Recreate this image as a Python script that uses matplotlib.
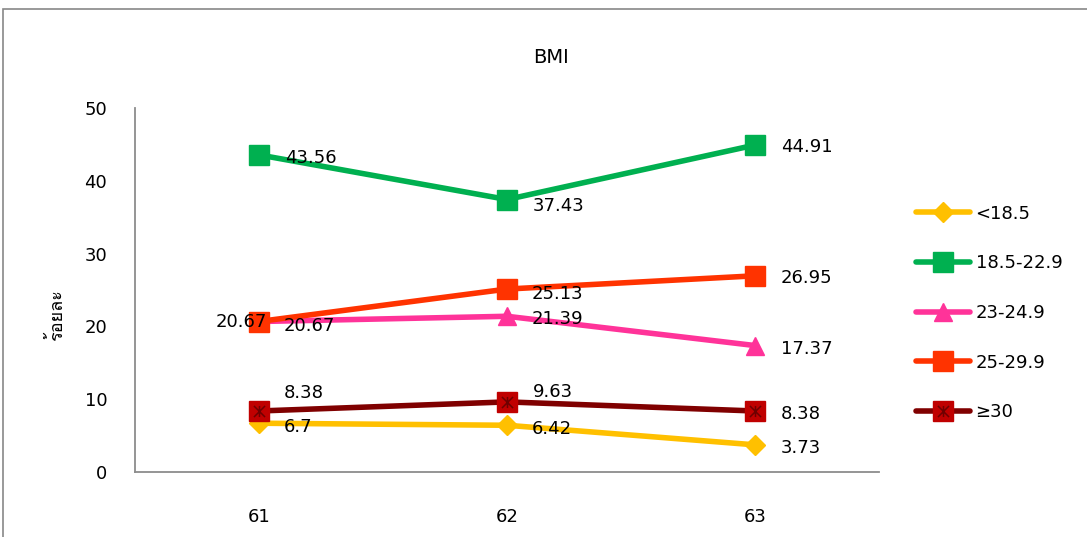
import matplotlib
matplotlib.use("Agg")
import matplotlib.pyplot as plt
from matplotlib import font_manager, ft2font
from matplotlib.legend_handler import HandlerTuple
from matplotlib.patches import Rectangle
from matplotlib.path import Path

plt.rcParams["font.family"] = ["DejaVu Sans"]

years = ["61", "62", "63"]
series_names = ["<18.5", "18.5-22.9", "23-24.9", "25-29.9", "≥30"]
under = [6.7, 6.42, 3.73]
normal = [43.56, 37.43, 44.91]
over = [20.67, 21.39, 17.37]
obese1 = [20.67, 25.13, 26.95]
obese2 = [8.38, 9.63, 8.38]
y_ticks = [0, 10, 20, 30, 40, 50]

# label offsets in pixels (dx, dy), dy positive = up
label_offsets = {
    "<18.5": [(25, -4), (25, -4), (26, -3)],
    "18.5-22.9": [(26, -3), (26, -6), (26, -2)],
    "23-24.9": [(25, -4), (25, -3), (26, -3)],
    "25-29.9": [(8, 0), (25, -5), (26, -2)],
    "≥30": [(25, 18), (26, 10), (26, -3)],
}


def thai_font():
    # first installed family that has Thai glyphs
    for f in font_manager.fontManager.ttflist:
        try:
            if 0x0E23 in ft2font.FT2Font(f.fname).get_charmap():
                return f.name
        except Exception:
            pass
    return "DejaVu Sans"


asterisk = Path([(-1, -1), (1, 1), (-1, 1), (1, -1), (0, -1), (0, 1)],
                [Path.MOVETO, Path.LINETO, Path.MOVETO, Path.LINETO,
                 Path.MOVETO, Path.LINETO])

fig = plt.figure(figsize=(10.87, 5.37), dpi=100)
ax = fig.add_axes([135 / 1087, 1 - 472 / 537, 744 / 1087, 364 / 537])

styles = {
    "<18.5": dict(color="#FFC000", marker="D", ms=10, mfc="#FFC000", mec="#FFC000"),
    "18.5-22.9": dict(color="#00B050", marker="s", ms=14, mfc="#00B050", mec="#00B050"),
    "23-24.9": dict(color="#FF3399", marker="^", ms=13, mfc="#FF3399", mec="#FF3399"),
    "25-29.9": dict(color="#FF3300", marker="s", ms=14, mfc="#FF3300", mec="#FF3300"),
    "≥30": dict(color="#800000", marker="s", ms=14, mfc="#C00000", mec="#C00000"),
}
data = dict(zip(series_names, [under, normal, over, obese1, obese2]))
x = list(range(len(years)))

handles = []
for name in series_names:
    vals = data[name]
    (ln,) = ax.plot(x, vals, lw=4, solid_capstyle="round", zorder=3, **styles[name])
    h = ln
    if name == "≥30":
        (st,) = ax.plot(x, vals, ls="none", marker=asterisk, ms=8, mec="#6E0000",
                        mew=1.1, zorder=4)
        h = (ln, st)
    handles.append(h)
    for i, v in enumerate(vals):
        dx, dy = label_offsets[name][i]
        ha = "right" if (name == "25-29.9" and i == 0) else "left"
        ax.annotate(f"{v:g}", (i, v), xytext=(dx, dy), textcoords="offset pixels",
                    ha=ha, va="center", fontsize=13, zorder=5)

ax.set_xlim(-0.5, 2.5)
ax.set_ylim(0, 50)
ax.set_xticks(x)
ax.set_xticklabels(years)
ax.set_yticks(y_ticks)
ax.tick_params(length=0, labelsize=13)
ax.tick_params(axis="y", pad=20)
ax.tick_params(axis="x", pad=26)
for s in ["top", "right"]:
    ax.spines[s].set_visible(False)
for s in ["left", "bottom"]:
    ax.spines[s].set_color("#8C8C8C")
    ax.spines[s].set_linewidth(1.3)

fig.text(551 / 1087, 1 - 57 / 537, "BMI", ha="center", va="center", fontsize=14)
fig.text(57 / 1087, 1 - 315 / 537, "ร้อยละ", rotation=90, ha="center", va="center",
         fontsize=13, family=[thai_font(), "DejaVu Sans"])

fig.legend(handles, series_names, loc="center left",
           bbox_to_anchor=(916 / 1087, 1 - 313 / 537), bbox_transform=fig.transFigure,
           frameon=False, fontsize=13, handlelength=3.0, handletextpad=0.3,
           labelspacing=1.75, borderpad=0, borderaxespad=0, numpoints=1,
           handler_map={tuple: HandlerTuple(ndivide=1)})

# outer chart frame, cropped at right and bottom
fig.patches.append(Rectangle((3 / 1087, -0.1), 2.0, 1.1 - 9 / 537, transform=fig.transFigure,
                             fill=False, edgecolor="#888888", lw=1.2))

fig.savefig("out.png", dpi=100)
